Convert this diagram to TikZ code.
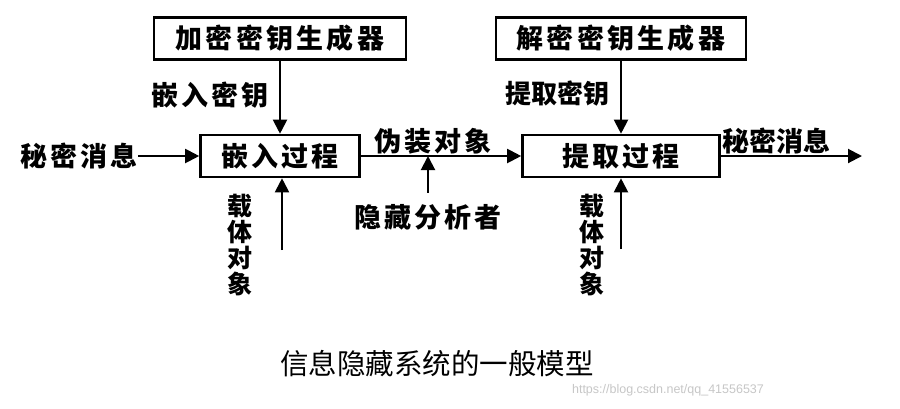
\documentclass[tikz,border=0pt]{standalone}
\usepackage{fontspec}
\newfontfamily\cjk[LetterSpace=12]{Noto Sans CJK SC}
\newfontfamily\cjkplain{Noto Sans CJK SC}
\newfontfamily\wmfont{Liberation Sans}
\usetikzlibrary{arrows.meta}
\begin{document}
\begin{tikzpicture}[x=1pt,y=-1pt,
  box/.style={draw,line width=2.6pt,minimum height=42pt,inner sep=0pt,
    font=\cjk\bfseries\fontsize{27}{30}\selectfont},
  lbl/.style={inner sep=0pt,font=\cjk\bfseries\fontsize{27}{30}\selectfont},
  lblc/.style={inner sep=0pt,font=\cjkplain\bfseries\fontsize{26}{28}\selectfont},
  vlbl/.style={inner sep=0pt,align=center,font=\cjkplain\bfseries\fontsize{25}{26}\selectfont},
  arr/.style={line width=2pt,-{Triangle[length=14pt,width=14pt]}}]
\useasboundingbox (0,0) rectangle (900,408);
\fill[white] (0,0) rectangle (900,408);

\node[box,minimum width=252pt] (gen1) at (280,38.5) {加密密钥生成器};
\node[box,minimum width=250pt] (gen2) at (621,38.5) {解密密钥生成器};
\node[box,minimum width=159pt] (emb) at (280,156) {嵌入过程};
\node[box,minimum width=197pt] (ext) at (621,156) {提取过程};

\node[lbl] (key1) at (210,95) {嵌入密钥};
\node[lblc] (key2) at (557,94) {提取密钥};
\draw[arr] (gen1.south) -- (emb.north);
\draw[arr] (gen2.south) -- (ext.north);

\node[lbl] (min) at (79,156) {秘密消息};
\draw[arr] (min.east) -- (emb.west);

\draw[arr] (emb.east) -- (ext.west);
\node[lbl] (cam) at (433,141) {伪装对象};

\node[lbl] (ana) at (428,217) {隐藏分析者};
\draw[arr] ([yshift=11pt]ana.north) -- (ana.north |- emb.east);

\node[vlbl] (car1) at (240,245) {载\\体\\对\\象};
\coordinate (c1) at (282,250);
\draw[arr] (c1) -- (c1 |- emb.south);

\node[vlbl] (car2) at (592,245) {载\\体\\对\\象};
\coordinate (c2) at (621,249);
\draw[arr] (c2) -- (c2 |- ext.south);

\coordinate (out) at (862,156);
\draw[arr] (ext.east) -- (out);
\node[lblc,font=\cjkplain\bfseries\fontsize{27}{28}\selectfont] (mout) at (776,141) {秘密消息};

\node[inner sep=0pt,font=\cjkplain\fontsize{28.5}{30}\selectfont] (cap) at (437,364) {信息隐藏系统的一般模型};
\node[inner sep=0pt,text=black!22,font=\wmfont\fontsize{12.5}{14}\selectfont] (wm) at (668,390) {https://blog.csdn.net/qq\_41556537};
\end{tikzpicture}
\end{document}
